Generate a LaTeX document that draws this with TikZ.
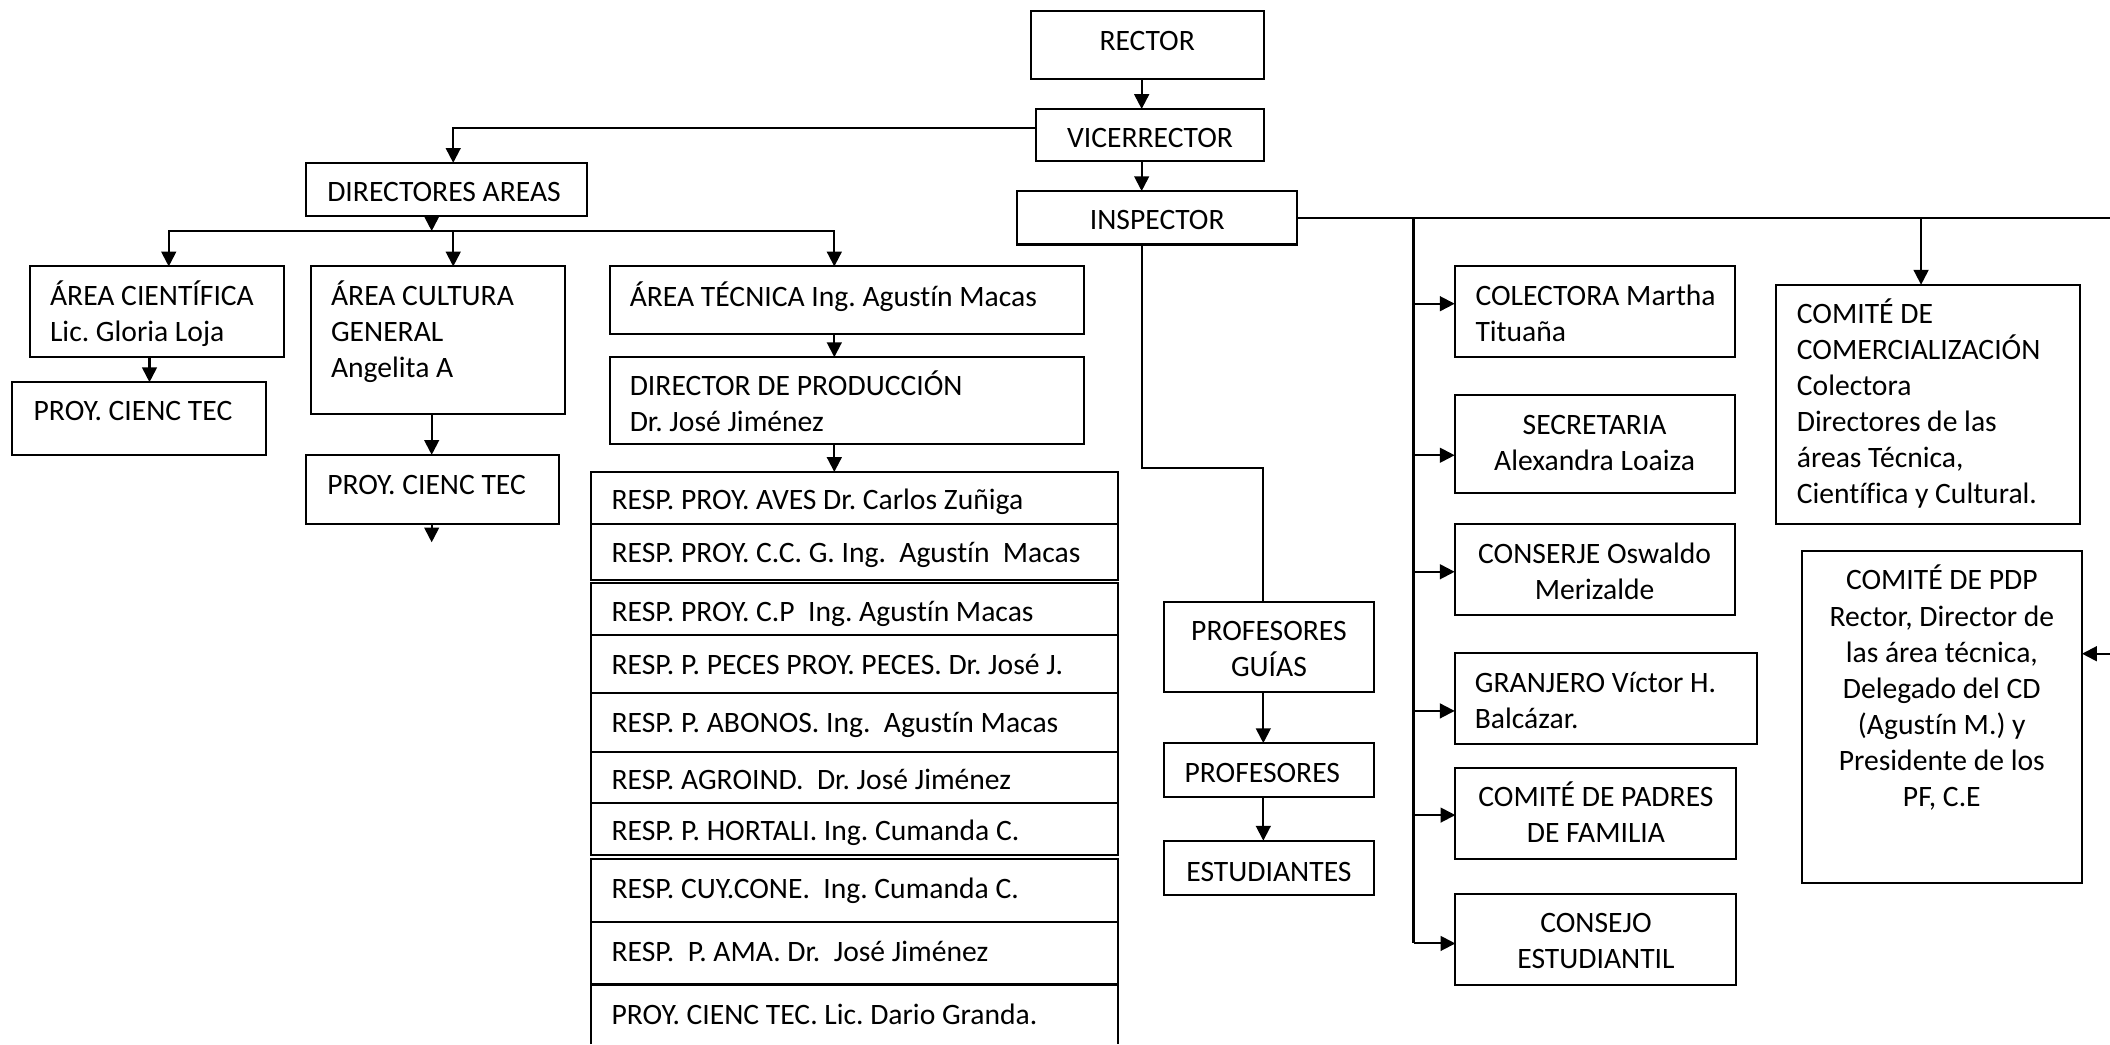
\documentclass[tikz,border=0pt]{standalone}
\usepackage{fontspec}
\setmainfont{Carlito}[Ligatures=NoCommon]
\usetikzlibrary{arrows.meta,calc}
\newcommand{\fst}{\rule{0pt}{20pt}}
\begin{document}
\begin{tikzpicture}[x=1pt,y=-1pt,
  box/.style={draw, line width=1.5pt, inner sep=0pt, outer sep=0pt, anchor=north west},
  sz/.style 2 args={minimum width=#1pt, minimum height=#2pt},
  txt/.style={inner sep=0pt, outer sep=0pt, font=\fontsize{22}{26.8}\selectfont\frenchspacing},
  tl/.style={txt, anchor=north west, align=left},
  tc/.style={txt, anchor=north, align=center},
  tb/.style={txt, anchor=base west},
  tm/.style={txt, anchor=base},
  conn/.style={line width=1.5pt},
  arr/.style={line width=1.5pt, -{Triangle[length=11pt,width=11pt]}},
]
\useasboundingbox (0,0) rectangle (1568,776);

% ---------- boxes ----------
\node[box, sz={173}{50.5}] (rector) at (766,8) {};
\node[box, sz={169}{39}] (vice) at (770,81) {};
\node[box, sz={208}{39.7}] (insp) at (756,142) {};
\node[box, sz={208.7}{39.4}] (dir) at (227.3,121) {};
\node[box, sz={189}{67.6}] (acie) at (22,198) {};
\node[box, sz={189.1}{54.3}] (proy1) at (8.6,284) {};
\node[box, sz={189}{109.6}] (acul) at (231,198) {};
\node[box, sz={188.4}{51.5}] (proy2) at (227.3,338) {};
\node[box, sz={352.6}{50}] (atec) at (453,198) {};
\node[box, sz={352.6}{64.6}] (dprod) at (453,265.4) {};

\node[box, sz={391.5}{38.8}] (r1) at (439,350.7) {};
\node[box, sz={391.5}{41.5}] (r2) at (439,389.5) {};
\node[box, sz={391.5}{38.8}] (r3) at (439,433.2) {};
\node[box, sz={391.5}{43}] (r4) at (439,472) {};
\node[box, sz={391.5}{43.5}] (r5) at (439,515) {};
\node[box, sz={391.5}{38}] (r6) at (439,558.5) {};
\node[box, sz={391.5}{38.8}] (r7) at (439,596.5) {};
\node[box, sz={391.5}{47.1}] (r8) at (439,638) {};
\node[box, sz={391.5}{46.5}] (r9) at (439,685.1) {};
\node[box, draw=none, sz={391.5}{44.4}] (r10) at (439,731.6) {};
\draw[conn] (r10.south west) -- (r10.north west) -- (r10.north east) -- (r10.south east);

\node[box, sz={156}{67.5}] (pguias) at (865,447) {};
\node[box, sz={156}{40.1}] (prof) at (865,552.2) {};
\node[box, sz={156}{40.3}] (est) at (865,624.7) {};

\node[box, sz={208}{67.6}] (colect) at (1081,198) {};
\node[box, sz={208}{72.9}] (secr) at (1081,293.8) {};
\node[box, sz={208.3}{67.7}] (cons) at (1081,389.3) {};
\node[box, sz={225}{67.8}] (granj) at (1081,485) {};
\node[box, sz={208.8}{67.4}] (padres) at (1081.5,570.6) {};
\node[box, sz={208.8}{67.5}] (consejo) at (1081.5,664.2) {};
\node[box, sz={226}{177.9}] (comer) at (1320,211.6) {};
\node[box, sz={207.9}{246.5}] (pdp) at (1339.3,409.5) {};

% ---------- texts ----------
\node[tm] (rector-t) at (852.5,37.7) {RECTOR};
\node[tm] (vice-t) at (854.6,109.4) {VICERRECTOR};
\node[tm] (insp-t) at (860,170.8) {INSPECTOR};
\node[tb] (dir-t) at (243.2,149.5) {DIRECTORES AREAS};
\node[tl] (acie-t) at (37.2,207) {\fst ÁREA CIENTÍFICA\\Lic. Gloria Loja};
\node[tb] (proy1-t) at (25,312.8) {PROY. CIENC TEC};
\node[tl] (acul-t) at (246,207) {\fst ÁREA CULTURA\\GENERAL\\Angelita A};
\node[tb] (proy2-t) at (243.2,367.8) {PROY. CIENC TEC};
\node[tb] (atec-t) at (468,227.6) {ÁREA TÉCNICA Ing. Agustín Macas};
\node[tl] (dprod-t) at (468,274.1) {\fst DIRECTOR DE PRODUCCIÓN\\Dr. José Jiménez};

\node[tb] (r1-t) at (454.5,378.7) {RESP. PROY. AVES Dr. Carlos Zuñiga};
\node[tb] (r2-t) at (454.5,418) {RESP. PROY. C.C. G. Ing.\ \ Agustín\ \ Macas};
\node[tb] (r3-t) at (454.5,461.9) {RESP. PROY. C.P\ \ Ing. Agustín Macas};
\node[tb] (r4-t) at (454.5,501.2) {RESP. P. PECES PROY. PECES. Dr. José J.};
\node[tb] (r5-t) at (454.5,544.1) {RESP. P. ABONOS. Ing.\ \ Agustín Macas};
\node[tb] (r6-t) at (454.5,587) {RESP. AGROIND.\ \ Dr. José Jiménez};
\node[tb] (r7-t) at (454.5,624.5) {RESP. P. HORTALI. Ing. Cumanda C.};
\node[tb] (r8-t) at (454.5,667.4) {RESP. CUY.CONE.\ \ Ing. Cumanda C.};
\node[tb] (r9-t) at (454.5,714.4) {RESP.\ \ P. AMA. Dr.\ \ José Jiménez};
\node[tb] (r10-t) at (454.5,761.4) {PROY. CIENC TEC. Lic. Dario Granda.};

\node[tc] (pguias-t) at (943,456) {\fst PROFESORES\\GUÍAS};
\node[tb] (prof-t) at (880.3,581.3) {PROFESORES};
\node[tm] (est-t) at (943,654.7) {ESTUDIANTES};

\node[tl] (colect-t) at (1096.5,207) {\fst COLECTORA Martha\\Tituaña};
\node[tc] (secr-t) at (1185,303) {\fst SECRETARIA\\Alexandra Loaiza};
\node[tc] (cons-t) at (1185,398.5) {\fst CONSERJE Oswaldo\\Merizalde};
\node[tl] (granj-t) at (1096,494.4) {\fst GRANJERO Víctor H.\\Balcázar.};
\node[tc] (padres-t) at (1186,579.5) {\fst COMITÉ DE PADRES\\DE FAMILIA};
\node[tc] (consejo-t) at (1186,673.1) {\fst CONSEJO\\ESTUDIANTIL};
\node[tl] (comer-t) at (1335.3,220.4) {\fst COMITÉ DE\\COMERCIALIZACIÓN\\Colectora\\Directores de las\\áreas Técnica,\\Científica y Cultural.};
\node[tc] (pdp-t) at (1443,418.4) {\fst COMITÉ DE PDP\\Rector, Director de\\las área técnica,\\Delegado del CD\\(Agustín M.) y\\Presidente de los\\PF, C.E};

% ---------- connectors ----------
\coordinate (xRV) at (848.4,0);
\draw[arr] (rector.south -| xRV) -- (vice.north -| xRV);
\draw[arr] (vice.south -| xRV) -- (insp.north -| xRV);

\coordinate (cDir) at (336.8,95.3);
\draw[arr] (vice.west |- cDir) -- (cDir) -- (dir.north -| cDir);

\coordinate (busL) at (125.4,171.7);
\coordinate (busR) at (620,171.7);
\coordinate (busM) at (320.8,171.7);
\coordinate (busC) at (336.8,171.7);
\draw[arr] (dir.south -| busM) -- (busM);
\draw[arr] (busM) -| (acie.north -| busL);
\draw[arr] (busM) -| (atec.north -| busR);
\draw[arr] (busC) -- (acul.north -| busC);

\coordinate (xA) at (111.1,0);
\draw[arr] (acie.south -| xA) -- (proy1.north -| xA);
\coordinate (xB) at (320.8,0);
\draw[arr] (acul.south -| xB) -- (proy2.north -| xB);
\coordinate (proy2end) at (320.8,403);
\draw[arr] (proy2.south -| xB) -- (proy2end);
\coordinate (xC) at (620,0);
\draw[arr] (atec.south -| xC) -- (dprod.north -| xC);
\draw[arr] (dprod.south -| xC) -- (r1.north -| xC);

\coordinate (k1) at (848.4,347.5);
\coordinate (k2) at (938.8,347.5);
\draw[conn] (insp.south -| k1) -- (k1) -- (k2) -- (pguias.north -| k2);
\coordinate (xD) at (938.8,0);
\draw[arr] (pguias.south -| xD) -- (prof.north -| xD);
\draw[arr] (prof.south -| xD) -- (est.north -| xD);

\coordinate (rEnd) at (1568,162);
\draw[conn] (insp.east |- rEnd) -- (rEnd);
\coordinate (vTop) at (1050.4,162);
\coordinate (vBot) at (1050.4,701.1);
\draw[conn] (vTop) -- (vBot);
\coordinate (aCol) at (1050.4,225.7);
\coordinate (aSec) at (1050.4,338.3);
\coordinate (aCon) at (1050.4,424.9);
\coordinate (aGra) at (1050.4,528.3);
\coordinate (aPad) at (1050.4,605.7);
\draw[arr] (aCol) -- (colect.west |- aCol);
\draw[arr] (aSec) -- (secr.west |- aSec);
\draw[arr] (aCon) -- (cons.west |- aCon);
\draw[arr] (aGra) -- (granj.west |- aGra);
\draw[arr] (aPad) -- (padres.west |- aPad);
\draw[arr] (vBot) -- (consejo.west |- vBot);

\coordinate (cCom) at (1427.6,162);
\draw[arr] (cCom) -- (comer.north -| cCom);
\coordinate (pdpIn) at (1568,485.8);
\draw[arr] (pdpIn) -- (pdp.east |- pdpIn);
\end{tikzpicture}
\end{document}
